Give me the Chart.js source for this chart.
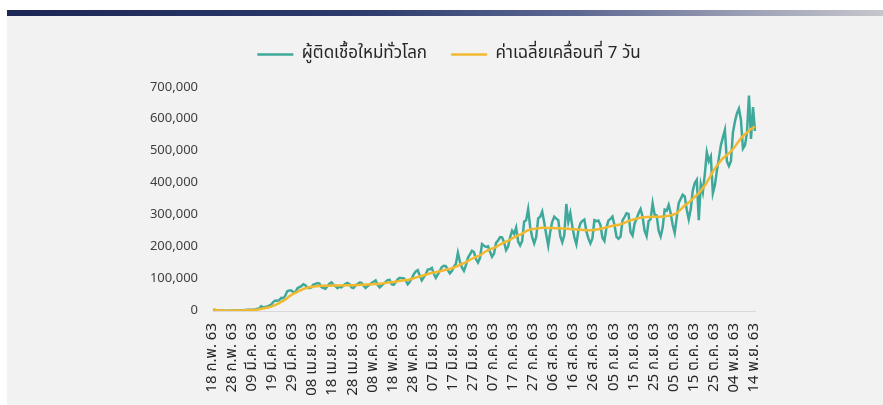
<!DOCTYPE html>
<html lang="th">
<head>
<meta charset="utf-8">
<title>ผู้ติดเชื้อใหม่ทั่วโลก</title>
<script src="https://cdn.jsdelivr.net/npm/chart.js@4.4.0/dist/chart.umd.min.js"></script>
<style>
  html, body { margin: 0; padding: 0; background: #ffffff; }
  body { position: relative; width: 883px; height: 405px; overflow: hidden; }
  .topbar {
    position: absolute; left: 7px; top: 10px; width: 876px; height: 6px;
    background: linear-gradient(to right, #1d2756 0%, #2c3a6c 40%, #5d6892 65%, #9ea2b6 85%, #c6c6cc 100%);
  }
  .panel {
    position: absolute; left: 7px; top: 16px; width: 876px; height: 389px;
    background: #f2f2f2;
  }
  canvas { display: block; }
</style>
</head>
<body>
<div class="topbar"></div>
<div class="panel"><canvas id="cases" width="876" height="389"></canvas></div>
<script>
// one tick label every 10 days, 18 Feb - 14 Nov 2563
const tickLabels = [
  '18 ก.พ. 63', '28 ก.พ. 63', '09 มี.ค. 63', '19 มี.ค. 63', '29 มี.ค. 63',
  '08 เม.ย. 63', '18 เม.ย. 63', '28 เม.ย. 63', '08 พ.ค. 63', '18 พ.ค. 63',
  '28 พ.ค. 63', '07 มิ.ย. 63', '17 มิ.ย. 63', '27 มิ.ย. 63', '07 ก.ค. 63',
  '17 ก.ค. 63', '27 ก.ค. 63', '06 ส.ค. 63', '16 ส.ค. 63', '26 ส.ค. 63',
  '05 ก.ย. 63', '15 ก.ย. 63', '25 ก.ย. 63', '05 ต.ค. 63', '15 ต.ค. 63',
  '25 ต.ค. 63', '04 พ.ย. 63', '14 พ.ย. 63'
];

const seriesNames = ['ผู้ติดเชื้อใหม่ทั่วโลก', 'ค่าเฉลี่ยเคลื่อนที่ 7 วัน'];

// daily new cases worldwide, one row per week (Tue..Mon)
const dailyCases = [
  2000, 600, 900, 1100, 1700, 600, 600,
  900, 1000, 1300, 1400, 1800, 2200, 1900,
  2400, 2300, 2800, 3900, 4000, 3800, 4000,
  4500, 7000, 7500, 15000, 11000, 13000, 14000,
  17000, 20000, 28000, 33000, 32000, 34000, 41000,
  40000, 48000, 62000, 64000, 64000, 60000, 58000,
  71000, 75000, 78000, 84000, 81000, 73000, 72000,
  74000, 83000, 85000, 88000, 86000, 75000, 72000,
  70000, 78000, 86000, 90000, 82000, 78000, 72000,
  76000, 74000, 80000, 85000, 88000, 84000, 74000,
  72000, 80000, 85000, 89000, 88000, 79000, 72000,
  78000, 82000, 88000, 92000, 96000, 82000, 74000,
  80000, 86000, 91000, 97000, 98000, 84000, 82000,
  90000, 99000, 104000, 103000, 103000, 96000, 84000,
  92000, 102000, 115000, 124000, 128000, 111000, 96000,
  106000, 116000, 130000, 131000, 135000, 117000, 104000,
  115000, 126000, 138000, 142000, 141000, 128000, 118000,
  125000, 139000, 148000, 183000, 155000, 137000, 126000,
  144000, 167000, 178000, 189000, 185000, 163000, 152000,
  166000, 210000, 205000, 201000, 203000, 186000, 170000,
  180000, 214000, 221000, 232000, 231000, 216000, 191000,
  202000, 231000, 252000, 242000, 262000, 218000, 206000,
  219000, 281000, 285000, 320000, 264000, 232000, 212000,
  232000, 291000, 296000, 312000, 278000, 240000, 205000,
  249000, 280000, 296000, 290000, 285000, 235000, 216000,
  238000, 336000, 280000, 307000, 266000, 232000, 210000,
  252000, 275000, 283000, 287000, 250000, 228000, 212000,
  228000, 285000, 282000, 284000, 270000, 230000, 220000,
  262000, 284000, 289000, 296000, 270000, 233000, 227000,
  233000, 284000, 295000, 307000, 305000, 248000, 237000,
  274000, 290000, 307000, 320000, 296000, 252000, 235000,
  282000, 288000, 338000, 302000, 300000, 252000, 234000,
  262000, 318000, 315000, 333000, 307000, 270000, 245000,
  293000, 339000, 352000, 365000, 360000, 318000, 288000,
  320000, 378000, 402000, 412000, 285000, 398000, 372000,
  430000, 498000, 470000, 485000, 370000, 395000, 440000,
  480000, 520000, 545000, 568000, 470000, 455000, 470000,
  560000, 595000, 620000, 635000, 600000, 510000, 520000,
  560000, 676000, 540000, 640000, 565000
];

// 7-day moving average of the same days
const movingAvg7 = [
  5200, 4600, 2400, 1500, 1300, 1200, 1100,
  1100, 1150, 1200, 1300, 1350, 1450, 1500,
  1750, 1950, 2200, 2500, 2800, 3000, 3300,
  3600, 4300, 5100, 6800, 8200, 9500, 10500,
  12000, 13800, 16500, 19000, 22000, 25000, 29000,
  32000, 36000, 41000, 46000, 50000, 54000, 57000,
  60000, 64000, 66000, 69000, 71000, 73000, 75000,
  75500, 76500, 77500, 78000, 78500, 79000, 79000,
  79000, 79000, 79500, 79500, 80000, 80000, 80000,
  80000, 80000, 80000, 80500, 80500, 80500, 81000,
  81000, 81500, 82000, 82000, 82500, 82500, 82500,
  83000, 83500, 84000, 84500, 85000, 85000, 85500,
  86000, 87000, 88000, 89000, 90000, 90500, 91000,
  92000, 93000, 94500, 95500, 96500, 97000, 97500,
  99000, 101000, 103000, 105000, 107000, 108500, 110000,
  112000, 114000, 116000, 118000, 120000, 121000, 122000,
  123000, 125000, 126500, 128000, 129500, 131000, 132500,
  134000, 136500, 139000, 142000, 145000, 147500, 150000,
  153000, 157000, 160500, 164000, 167000, 169500, 172000,
  175000, 179000, 183500, 187500, 191000, 193500, 196000,
  198500, 201500, 205000, 208500, 212000, 215000, 218000,
  220500, 224000, 227500, 231000, 234500, 237500, 240000,
  243000, 247000, 250500, 253500, 255500, 257000, 258000,
  259000, 260000, 260500, 261000, 261000, 261000, 260500,
  260500, 260500, 260000, 260000, 259500, 259500, 259000,
  259000, 258500, 258000, 257500, 257000, 256500, 256000,
  255500, 255000, 254500, 254000, 253500, 253500, 253500,
  254000, 254500, 255500, 256500, 258000, 259500, 261000,
  263000, 264500, 266000, 267500, 268500, 269500, 270500,
  272000, 274500, 277000, 280000, 282500, 284500, 286500,
  288000, 290000, 291500, 293000, 294000, 294500, 295000,
  295000, 295500, 296000, 296000, 296000, 296000, 296000,
  296500, 297000, 298000, 299000, 300500, 302000, 304000,
  307000, 313000, 319000, 325000, 331000, 336000, 341000,
  346000, 352000, 358000, 364000, 370000, 377000, 385000,
  394000, 404000, 415000, 426000, 437000, 447000, 456000,
  464000, 472000, 479000, 485000, 490000, 495000, 501000,
  508000, 516000, 525000, 534000, 542000, 549000, 555000,
  560000, 566000, 571000, 575000, 578000
];

// only every 10th day carries a visible label
const categories = dailyCases.map((_, i) => (i % 10 === 0 ? tickLabels[i / 10] : ''));

Chart.defaults.font.family = "Tahoma, 'Noto Sans Thai', 'Noto Sans', sans-serif";

// adjust the space the legend reserves above the plot
const legendGap = {
  id: 'legendGap',
  beforeInit(chart) {
    const fit = chart.legend.fit;
    chart.legend.fit = function () {
      fit.call(this);
      this.height += 15;
    };
  }
};

new Chart(document.getElementById('cases'), {
  type: 'line',
  data: {
    labels: categories,
    datasets: [
      {
        label: seriesNames[0],
        data: dailyCases,
        borderColor: '#3ea99b',
        backgroundColor: '#3ea99b',
        borderWidth: 2.5,
        pointRadius: 0,
        tension: 0,
        order: 1
      },
      {
        label: seriesNames[1],
        data: movingAvg7,
        borderColor: '#f2b830',
        backgroundColor: '#f2b830',
        borderWidth: 2.5,
        pointRadius: 0,
        tension: 0.3,
        order: 0
      }
    ]
  },
  options: {
    responsive: false,
    animation: false,
    devicePixelRatio: 1,
    layout: { padding: { top: 6, left: 136, right: 128, bottom: 0 } },
    plugins: {
      tooltip: { enabled: false },
      legend: {
        position: 'top',
        labels: {
          usePointStyle: true,
          pointStyle: 'line',
          pointStyleWidth: 36,
          padding: 24,
          color: '#262626',
          font: { size: 17 },
          sort: (a, b) => a.datasetIndex - b.datasetIndex
        }
      }
    },
    scales: {
      x: {
        grid: { display: false },
        border: { color: '#d9d9d9', width: 1 },
        ticks: {
          autoSkip: false,
          maxRotation: 90,
          minRotation: 90,
          padding: 4,
          color: '#262626',
          font: { size: 15 }
        },
        afterFit: scale => { scale.height = 94; }
      },
      y: {
        min: 0,
        max: 700000,
        grid: { display: false },
        border: { display: false },
        ticks: {
          stepSize: 100000,
          padding: 7,
          color: '#404040',
          font: { size: 13 },
          callback: v => v.toLocaleString('en-US')
        },
        afterFit: scale => { scale.width = 70; }
      }
    }
  },
  plugins: [legendGap]
});
</script>
</body>
</html>
